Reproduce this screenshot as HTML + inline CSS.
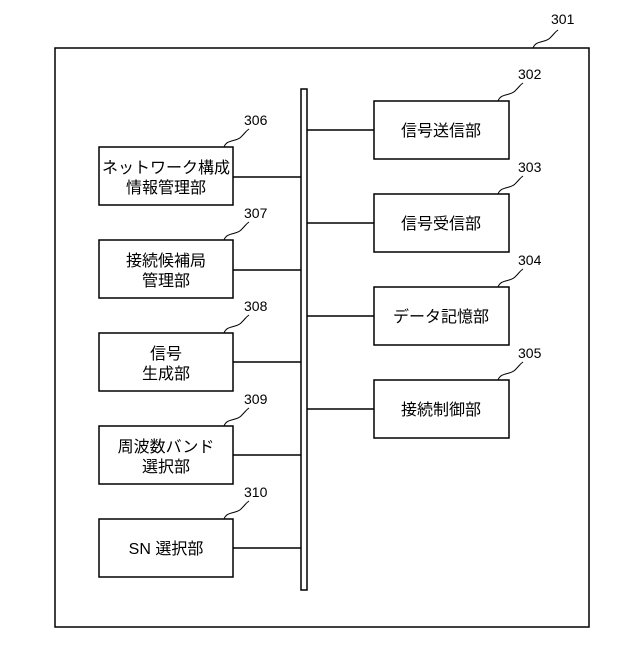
<!DOCTYPE html>
<html><head><meta charset="utf-8"><style>
body{margin:0;background:#fff}
text{font-family:"Liberation Sans","Noto Sans CJK JP",sans-serif;fill:#000}
</style></head><body>
<svg width="640" height="640" viewBox="0 0 640 640" xmlns="http://www.w3.org/2000/svg">
<g fill="none" stroke="#000" stroke-width="1.5">
<rect x="55" y="48" width="534" height="579"/>
<rect x="301" y="89" width="6" height="501"/>
<rect x="374" y="101" width="135" height="58"/>
<rect x="374" y="194" width="135" height="58"/>
<rect x="374" y="287" width="135" height="58"/>
<rect x="374" y="380" width="135" height="58"/>
<rect x="99" y="147" width="134" height="58"/>
<rect x="99" y="240" width="134" height="58"/>
<rect x="99" y="333" width="134" height="58"/>
<rect x="99" y="426" width="134" height="58"/>
<rect x="99" y="519" width="134" height="58"/>
<path d="M307 130H374M307 223H374M307 316H374M307 409H374"/>
<path d="M233 177H301M233 270H301M233 362H301M233 455H301M233 548H301"/>
<g stroke-width="1">
<path d="M533 48c3-8 12-5 17-10s5-6 8-8"/>
<path d="M498 101c3-8 12-5 17-10s5-6 8-8"/>
<path d="M498 194c3-8 12-5 17-10s5-6 8-8"/>
<path d="M498 287c3-8 12-5 17-10s5-6 8-8"/>
<path d="M498 380c3-8 12-5 17-10s5-6 8-8"/>
<path d="M224 147c3-8 12-5 17-10s5-6 8-8"/>
<path d="M224 240c3-8 12-5 17-10s5-6 8-8"/>
<path d="M224 333c3-8 12-5 17-10s5-6 8-8"/>
<path d="M224 426c3-8 12-5 17-10s5-6 8-8"/>
<path d="M224 519c3-8 12-5 17-10s5-6 8-8"/>
</g>
</g>
<g font-size="14">
<text x="551" y="24">301</text>
<text x="518" y="79">302</text>
<text x="518" y="172">303</text>
<text x="518" y="265">304</text>
<text x="518" y="358">305</text>
<text x="244" y="125">306</text>
<text x="244" y="218">307</text>
<text x="244" y="311">308</text>
<text x="244" y="404">309</text>
<text x="244" y="497">310</text>
</g>
<g font-size="16" text-anchor="middle">
<text x="441" y="136">信号送信部</text>
<text x="441" y="229">信号受信部</text>
<text x="441" y="322">データ記憶部</text>
<text x="441" y="415">接続制御部</text>
<text x="166" y="173">ネットワーク構成</text>
<text x="166" y="193">情報管理部</text>
<text x="166" y="266">接続候補局</text>
<text x="166" y="286">管理部</text>
<text x="166" y="359">信号</text>
<text x="166" y="379">生成部</text>
<text x="166" y="452">周波数バンド</text>
<text x="166" y="472">選択部</text>
<text x="166" y="554">SN 選択部</text>
</g>
</svg>
</body></html>
